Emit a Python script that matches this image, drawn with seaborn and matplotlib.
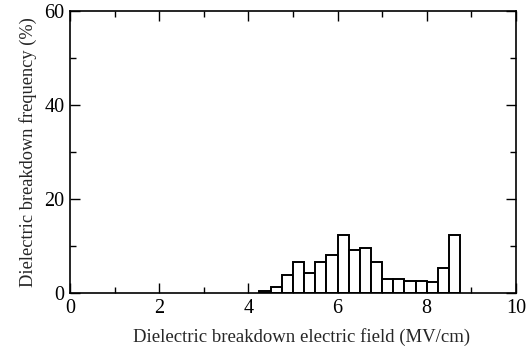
import matplotlib
matplotlib.use("Agg")
import matplotlib.pyplot as plt
import seaborn as sns
from matplotlib.ticker import MultipleLocator

# Data: bin centres (MV/cm) and breakdown frequency (%)
field_centers = [4.375, 4.625, 4.875, 5.125, 5.375, 5.625, 5.875, 6.125, 6.375,
                 6.625, 6.875, 7.125, 7.375, 7.625, 7.875, 8.125, 8.375, 8.625]
frequency = [0.4, 1.3, 3.8, 6.5, 4.3, 6.6, 8.0, 12.3, 9.2,
             9.5, 6.5, 3.0, 3.0, 2.6, 2.6, 2.3, 5.3, 12.3]
bin_edges = [4.25, 4.5, 4.75, 5.0, 5.25, 5.5, 5.75, 6.0, 6.25, 6.5,
             6.75, 7.0, 7.25, 7.5, 7.75, 8.0, 8.25, 8.5, 8.75]
x_ticks = [0, 2, 4, 6, 8, 10]
y_ticks = [0, 20, 40, 60]

sns.set_style("ticks")
plt.rcParams['font.family'] = ['Liberation Serif', 'DejaVu Serif']

fig = plt.figure(figsize=(5.32, 3.53), dpi=100)
ax = fig.add_axes([0.1316, 0.170, 0.838, 0.799])

sns.histplot(x=field_centers, weights=frequency, bins=bin_edges, ax=ax,
             color="white", edgecolor="black", linewidth=1.4, alpha=1.0,
             stat="count")

ax.set_xlim(0, 10)
ax.set_ylim(0, 60)
ax.set_xticks(x_ticks)
ax.set_yticks(y_ticks)
ax.xaxis.set_minor_locator(MultipleLocator(1))
ax.yaxis.set_minor_locator(MultipleLocator(10))
ax.tick_params(which="both", direction="in", top=True, right=True,
               width=1.0, colors="black", labelsize=14.5)
ax.tick_params(which="major", length=7)
ax.tick_params(which="minor", length=4)
ax.tick_params(axis="x", which="major", pad=4)
ax.tick_params(axis="y", which="major", pad=4)
for s in ax.spines.values():
    s.set_visible(True)
    s.set_linewidth(1.2)
    s.set_color("black")

ax.set_xlabel("Dielectric breakdown electric field (MV/cm)", fontsize=13.5, labelpad=6)
ax.set_ylabel("Dielectric breakdown frequency (%)", fontsize=13.2, labelpad=5)
ax.xaxis.set_label_coords(0.52, -0.125)

fig.savefig("out.png", dpi=100)
